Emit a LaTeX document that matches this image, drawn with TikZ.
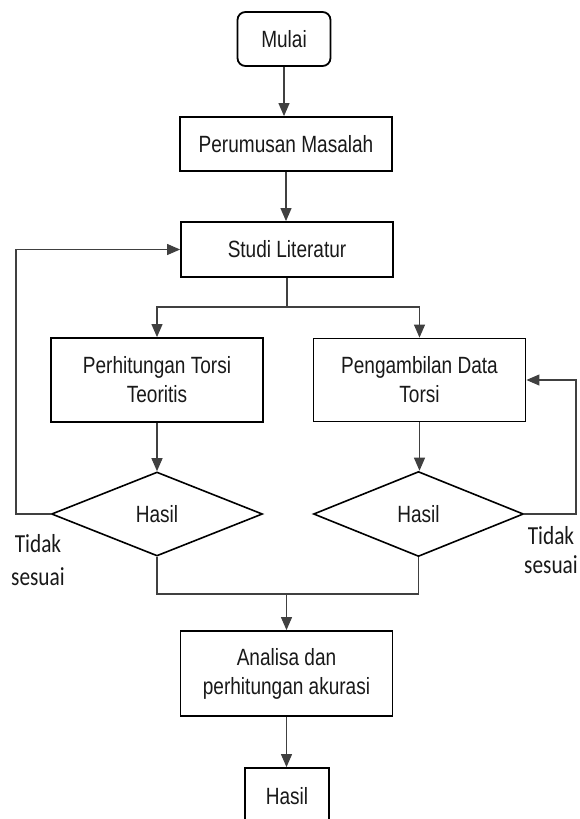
\documentclass[tikz,border=0pt]{standalone}
\usepackage{fontspec}
\setmainfont[FakeStretch=0.81]{Liberation Sans}
\newfontfamily\lblfont[FakeStretch=0.82]{Carlito}
\usetikzlibrary{shapes.geometric,arrows.meta}
\begin{document}
\begin{tikzpicture}[x=1pt,y=-1pt,
  base/.style={font=\fontsize{23.5}{29}\selectfont, align=center, inner sep=0pt, text=black!90},
  procbox/.style={base, draw, line width=1.8pt, minimum width=212pt, minimum height=54pt},
  decision/.style={base, draw, diamond, line width=1.6pt, minimum width=211pt, minimum height=84pt},
  lbl/.style={font=\lblfont\fontsize{26}{29}\selectfont, align=center, inner sep=0pt, text=black!90},
  ln/.style={line width=1.1pt, draw=black!75},
  conn/.style={ln, -{Triangle[length=13pt,width=11pt]}}]
\useasboundingbox (0,0) rectangle (579,819);
\clip (0,0) rectangle (579,819);

\node[procbox, rounded corners=8pt, minimum width=93pt] (mulai) at (284,39) {Mulai};
\node[procbox] (perumusan) at (286,144) {Perumusan Masalah};
\node[procbox, minimum height=55pt] (studi) at (287,249.5) {Studi Literatur};
\node[procbox, minimum height=84pt] (perhitungan) at (157,380) {Perhitungan Torsi\\Teoritis};
\node[procbox, minimum height=83pt] (pengambilan) at (419.5,380) {Pengambilan Data\\Torsi};
\node[decision] (dec1) at (157,514) {Hasil};
\node[decision, minimum width=210pt, minimum height=85pt] (dec2) at (418.5,514) {Hasil};
\node[procbox, minimum height=85pt] (analisa) at (286.5,673.5) {Analisa dan\\perhitungan akurasi};
\node[procbox, minimum width=84pt, minimum height=56pt] (hasil) at (287,796) {Hasil};

\node[lbl, anchor=base] (tl) at (38,585) {Tidak\\[4pt]sesuai};
\node[lbl, anchor=base] (tr) at (551,573.3) {Tidak\\sesuai};

\coordinate (split) at (287,307);
\coordinate (fbL) at (16,400);
\coordinate (fbR) at (576,400);
\coordinate (merge) at (286.5,594);

\draw[conn] (mulai.south) -- (mulai.south |- perumusan.north);
\draw[conn] (perumusan.south) -- (perumusan.south |- studi.north);
\draw[ln] (studi.south) -- (studi.south |- split);
\draw[conn] (studi.south |- split) -| (perhitungan.north);
\draw[conn] (studi.south |- split) -| (pengambilan.north);
\draw[conn] (perhitungan.south) -- (dec1.north);
\draw[conn] (pengambilan.south) -- (pengambilan.south |- dec2.north);
\draw[conn] (dec1.west) -- (dec1.west -| fbL) |- (studi.west);
\draw[conn] (dec2.east) -- (dec2.east -| fbR) |- (pengambilan.east);
\draw[ln] (dec1.south) |- (merge);
\draw[ln] (dec2.south) |- (merge);
\draw[conn] (merge) -- (analisa.north);
\draw[conn] (analisa.south) -- (analisa.south |- hasil.north);
\end{tikzpicture}
\end{document}
